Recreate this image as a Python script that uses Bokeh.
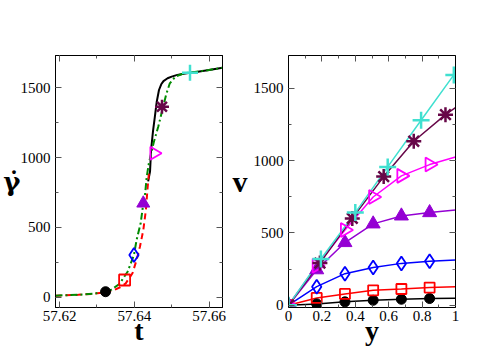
import math
from bokeh.plotting import figure
from bokeh.layouts import row
from bokeh.models import Range1d, FixedTicker, LinearAxis, CustomJSTickFormatter
from bokeh.embed import file_html
from bokeh.resources import INLINE

# ---------------- left panel data: gamma-dot vs t ----------------
t_black = [57.6437, 57.6442, 57.6445, 57.6450, 57.6455, 57.6460, 57.6466, 57.6472,
           57.6478, 57.6489, 57.6500, 57.6515, 57.6532, 57.6549, 57.6570, 57.6600, 57.6636]
g_black = [830, 900, 1060, 1190, 1293, 1400, 1484, 1525,
           1548, 1568, 1580, 1592, 1600, 1607, 1615, 1627, 1643]

t_red = [57.6189, 57.6250, 57.6290, 57.6320, 57.6346, 57.6362, 57.6377, 57.6395,
         57.6406, 57.6415, 57.6424, 57.6431, 57.6435, 57.6439, 57.6442]
g_red = [12, 18, 25, 35, 52, 72, 100, 172,
         267, 362, 482, 625, 768, 888, 905]

t_green = [57.6189, 57.6250, 57.6290, 57.6323, 57.6337, 57.6360, 57.6382, 57.6399,
           57.6406, 57.6417, 57.6424, 57.6429, 57.6433, 57.6439, 57.6446, 57.6452,
           57.6464, 57.6474, 57.6485, 57.6495, 57.6510, 57.6532, 57.6549, 57.6600, 57.6636]
g_green = [12, 18, 25, 40, 52, 95, 183, 303,
           410, 530, 673, 744, 860, 960, 1040, 1110,
           1221, 1330, 1450, 1532, 1580, 1603, 1608, 1627, 1643]

# markers on the gamma-dot curve
mk_t = [57.6323, 57.6374, 57.6399, 57.6424, 57.6453, 57.6474, 57.6549]
mk_g = [40, 124, 303, 673, 1031, 1364, 1608]

# ---------------- right panel data: v vs y ----------------
y_six = [0, 0.169, 0.338, 0.507, 0.676, 0.845]
y_star = [0, 0.188, 0.382, 0.570, 0.750, 0.940]
y_plus = [0, 0.194, 0.400, 0.594, 0.794, 0.990]

v_black = [0, 9, 23, 34, 41, 46]
v_red = [0, 50, 78, 103, 112, 122]
v_blue = [0, 128, 218, 261, 289, 303]
v_purple = [0, 245, 433, 562, 617, 640]
v_magenta = [0, 273, 520, 748, 894, 972]
v_maroon = [0, 291, 600, 889, 1133, 1317]
v_turq = [0, 319, 640, 956, 1278, 1592]

# end values of the profiles at y = 1
v_end = {"black": 48, "red": 128, "blue": 312, "purple": 658,
         "magenta": 1025, "maroon": 1365, "turq": 1600}

x_ticks_l = [57.62, 57.64, 57.66]
x_minor_l = [57.62, 57.63, 57.64, 57.65, 57.66]
y_ticks = [0, 500, 1000, 1500]
y_minor = [0, 250, 500, 750, 1000, 1250, 1500]
x_ticks_r = [0, 0.2, 0.4, 0.6, 0.8, 1.0]
x_minor_r = [0, 0.1, 0.2, 0.3, 0.4, 0.5, 0.6, 0.7, 0.8, 0.9, 1.0]

C_PURPLE = "#9400d3"
C_MAROON = "#670748"
C_TURQ = "#40e0d0"
C_GREEN = "#008b00"

FONT = "Liberation Serif"
TICKC = "#555555"


def mirror_axis(ticks, minor):
    return LinearAxis(ticker=FixedTicker(ticks=ticks, minor_ticks=minor),
                      major_label_text_font_size="1px", major_label_text_color=None,
                      major_label_standoff=0,
                      major_tick_in=6, major_tick_out=0, minor_tick_in=3, minor_tick_out=0,
                      major_tick_line_color=TICKC, minor_tick_line_color=TICKC,
                      axis_line_color="black")


def style_axes(p, xt, xm, yt, ym, xlabel, ylabel, xfmt=None, yfont=FONT, ysize="30px", ystand=3):
    xa = p.below[0]
    ya = p.left[0]
    for ax in (xa, ya):
        ax.axis_line_color = "black"
        ax.major_tick_in = 6
        ax.major_tick_out = 0
        ax.minor_tick_in = 3
        ax.minor_tick_out = 0
        ax.major_tick_line_color = TICKC
        ax.minor_tick_line_color = TICKC
        ax.major_label_text_font = FONT
        ax.major_label_text_font_size = "15px"
        ax.major_label_text_color = "black"
        ax.axis_label_text_font_style = "bold"
        ax.axis_label_text_color = "black"
    xa.ticker = FixedTicker(ticks=xt, minor_ticks=xm)
    ya.ticker = FixedTicker(ticks=yt, minor_ticks=ym)
    xa.major_label_standoff = 3
    ya.major_label_standoff = 5
    if xfmt is not None:
        xa.formatter = xfmt
    xa.axis_label = xlabel
    xa.axis_label_text_font = FONT
    xa.axis_label_text_font_size = "28px"
    xa.axis_label_standoff = -9
    ya.axis_label = ylabel
    ya.axis_label_text_font = yfont
    ya.axis_label_text_font_size = ysize
    ya.axis_label_standoff = ystand
    ya.axis_label_orientation = "horizontal"
    p.add_layout(mirror_axis(xt, xm), "above")
    p.add_layout(mirror_axis(yt, ym), "right")


# ---------------- left figure ----------------
p1 = figure(width=228, height=349, output_backend="svg", toolbar_location=None,
            x_range=Range1d(57.6189, 57.6636), y_range=Range1d(-73, 1731),
            min_border_left=55, min_border_right=6, min_border_top=55, min_border_bottom=42)
p1.grid.visible = False
p1.outline_line_color = "black"
p1.background_fill_color = "white"
p1.border_fill_color = "white"
style_axes(p1, x_ticks_l, x_minor_l, y_ticks, y_minor, "t", "\u03b3\u0307",
           yfont="DejaVu Serif", ysize="26px", ystand=-3)

p1.line(t_black, g_black, line_color="black", line_width=2)
p1.line(t_red, g_red, line_color="red", line_width=2, line_dash="6 4")
p1.line(t_green, g_green, line_color=C_GREEN, line_width=2, line_dash="7 3 2 3")

p1.scatter([mk_t[0]], [mk_g[0]], marker="circle", size=10, fill_color="black", line_color="black")
p1.scatter([mk_t[1]], [mk_g[1]], marker="square", size=11, fill_color=None, line_color="red", line_width=1.8)
p1.scatter([mk_t[2]], [mk_g[2]], marker="diamond", size=14, fill_color=None, line_color="blue", line_width=1.8)
p1.scatter([mk_t[3]], [mk_g[3]], marker="triangle", size=13, fill_color=C_PURPLE, line_color=C_PURPLE)
p1.scatter([mk_t[4]], [mk_g[4]], marker="triangle", angle=-math.pi / 2, size=13,
           fill_color=None, line_color="magenta", line_width=1.8)
p1.scatter([mk_t[5]], [mk_g[5]], marker="asterisk", size=14, line_color=C_MAROON, line_width=2.5)
p1.scatter([mk_t[6]], [mk_g[6]], marker="cross", size=16, line_color=C_TURQ, line_width=2.5)

# ---------------- right figure ----------------
p2 = figure(width=263, height=349, output_backend="svg", toolbar_location=None,
            x_range=Range1d(0, 1), y_range=Range1d(-16, 1726),
            min_border_left=60, min_border_right=36, min_border_top=55, min_border_bottom=42)
p2.grid.visible = False
p2.outline_line_color = "black"
p2.background_fill_color = "white"
p2.border_fill_color = "white"
fmt = CustomJSTickFormatter(code="return String(Math.round(tick * 10) / 10);")
style_axes(p2, x_ticks_r, x_minor_r, y_ticks, y_minor, "y", "v", xfmt=fmt)

series = [
    (y_six, v_black, v_end["black"], "black", dict(marker="circle", size=10, fill_color="black")),
    (y_six, v_red, v_end["red"], "red", dict(marker="square", size=10, fill_color=None, line_width=1.8)),
    (y_six, v_blue, v_end["blue"], "blue", dict(marker="diamond", size=14, fill_color=None, line_width=1.8)),
    (y_six, v_purple, v_end["purple"], C_PURPLE, dict(marker="triangle", size=14, fill_color=C_PURPLE)),
    (y_six, v_magenta, v_end["magenta"], "magenta", dict(marker="triangle", angle=-math.pi / 2, size=14,
                                                          fill_color=None, line_width=1.8)),
    (y_star, v_maroon, v_end["maroon"], C_MAROON, dict(marker="asterisk", size=15, line_width=2.5)),
    (y_plus, v_turq, v_end["turq"], C_TURQ, dict(marker="cross", size=17, line_width=2.5)),
]
for ys, vs, vend, col, mk in series:
    p2.line(ys + [1.0], vs + [vend], line_color=col, line_width=1.5)
for ys, vs, vend, col, mk in series:
    p2.scatter(ys, vs, line_color=col, **mk)

layout = row(p1, p2)
open("out.html", "w").write(file_html(layout, INLINE))
